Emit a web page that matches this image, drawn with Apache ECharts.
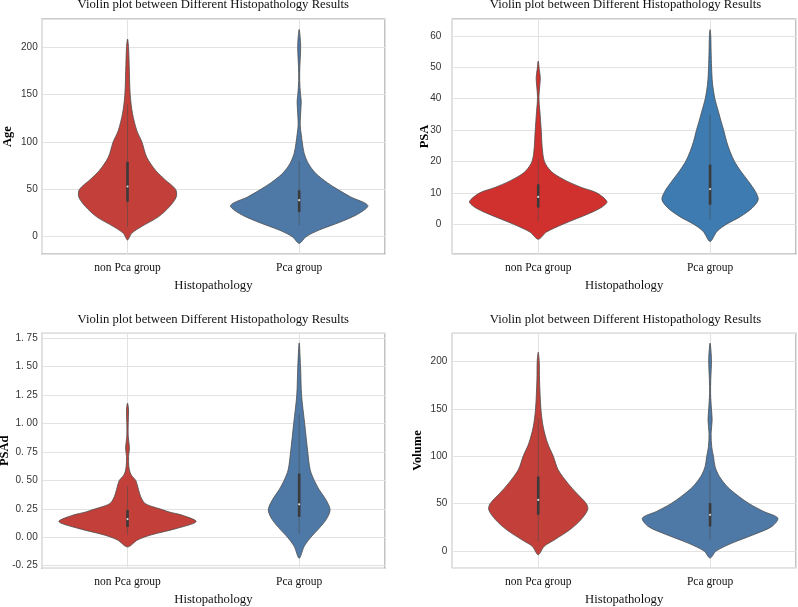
<!DOCTYPE html>
<html>
<head>
<meta charset="utf-8">
<script src="https://cdn.jsdelivr.net/npm/echarts@6/dist/echarts.min.js"></script>
<style>
html,body{margin:0;padding:0;background:#fff;}
#chart{width:798px;height:607px;}
</style>
</head>
<body>
<div id="chart"></div>
<script>
// ---------- data ----------
const categories = ['non Pca group', 'Pca group'];
const chartTitle = 'Violin plot between Different Histopathology Results';
const xName = 'Histopathology';
const yNames = ['Age', 'PSA', 'PSAd', 'Volume'];

// violin profiles: [value, relative density width]
const ageNonPca = [[-3.5,0],[3.5,0.06],[10.5,0.20],[21,0.45],[31.6,0.61],[42,0.71],[50,0.70],[60,0.55],[70,0.41],[84,0.28],[100,0.21],[112,0.136],[130,0.073],[150,0.039],[182,0.024],[200,0.015],[208.8,0]];
const agePca = [[-7,0],[0,0.1],[7,0.29],[15.8,0.61],[24.5,0.87],[33,1.0],[42,0.75],[50,0.56],[57,0.41],[67,0.24],[77,0.136],[88,0.073],[100,0.044],[108,0.03],[118,0.015],[135,0.025],[143,0.03],[150,0.02],[165,0.007],[180,0.01],[195,0.02],[205,0.02],[219,0]];
const psaNonPca = [[-4.8,0],[-2.5,0.12],[0,0.36],[3.5,0.75],[5.5,0.93],[7.2,1.0],[10,0.85],[11.7,0.63],[13.8,0.41],[15.5,0.27],[17,0.18],[20,0.09],[24.4,0.058],[28.7,0.047],[33,0.034],[36,0.024],[40.3,0.01],[44,0.022],[46.7,0.03],[49.4,0.015],[52,0]];
const psaPca = [[-5.5,0],[-2.3,0.1],[0,0.24],[2.4,0.44],[5.1,0.61],[7.8,0.70],[10.4,0.66],[13.6,0.56],[16.8,0.45],[19.8,0.36],[23.2,0.29],[26.4,0.24],[29.8,0.2],[32.8,0.16],[36,0.12],[40,0.07],[45,0.035],[50,0.022],[55,0.015],[60,0.01],[62,0]];
const psadNonPca = [[-0.085,0],[-0.024,0.146],[0.02,0.34],[0.08,0.73],[0.138,1.0],[0.197,0.78],[0.22,0.62],[0.25,0.47],[0.27,0.36],[0.30,0.25],[0.36,0.19],[0.42,0.16],[0.5,0.12],[0.535,0.07],[0.565,0.04],[0.62,0.02],[0.71,0.015],[0.785,0.028],[0.89,0.01],[1.0,0.01],[1.12,0.015],[1.18,0]];
const psadPca = [[-0.185,0],[-0.08,0.073],[0,0.17],[0.065,0.27],[0.153,0.39],[0.24,0.45],[0.33,0.39],[0.42,0.29],[0.5,0.22],[0.594,0.16],[0.75,0.125],[1.0,0.08],[1.25,0.035],[1.5,0.02],[1.71,0]];
const volNonPca = [[-3.9,0],[5,0.087],[12,0.24],[22.5,0.46],[33,0.62],[43.6,0.72],[50,0.70],[61,0.56],[71.7,0.43],[85.8,0.29],[100,0.22],[114,0.136],[131,0.073],[150,0.039],[180.7,0.019],[200,0.015],[210,0]];
const volPca = [[-7.4,0],[0,0.087],[8.4,0.32],[17.2,0.63],[26,0.9],[34.8,0.985],[41.8,0.78],[50,0.57],[57.6,0.42],[68,0.25],[78.7,0.136],[89,0.073],[100,0.049],[110,0.024],[124,0.015],[138.5,0.03],[150,0.02],[166.6,0.007],[181,0.01],[202,0.02],[219.7,0]];

// box stats: [lower whisker, q1, median, q3, upper whisker]
const ageBox = [[10,37,53,79,140],[12,26,38.6,49,80]];
const psaBox = [[1,5.3,8.7,12.7,21],[1.4,6.2,11.2,19,35]];
const psadBox = [[0.02,0.09,0.16,0.24,0.45],[0.03,0.18,0.29,0.56,1.08]];
const volBox = [[10,38.3,54,78.7,140],[12,26,38.3,50.6,85]];

// axis ranges and tick steps
const yMin = [-18.3, -9.5, -0.273, -17.6];
const yMax = [230, 65.4, 1.794, 230];
const yStep = [50, 10, 0.25, 50];

// ---------- layout / style ----------
const grids = [
  {left: 41.7, top: 19, width: 343.3, height: 235},
  {left: 452.3, top: 19, width: 343.7, height: 235},
  {left: 41.7, top: 333.3, width: 343.3, height: 235},
  {left: 452.3, top: 333.3, width: 343.7, height: 234.4}
];
const titlePos = [[213.3, 4.5], [625.5, 4.5], [213.3, 319.5], [625.5, 319.5]];
const yNameGap = [27.5, 21.5, 30.5, 28];
const yLabelMargin = [4, 11, 4, 5];
const colors = [
  ['#c3403a', '#4e79a7'],
  ['#d0312f', '#3d7bb0'],
  ['#c3403a', '#4e79a7'],
  ['#c3403a', '#4e79a7']
];
const profiles = [[ageNonPca, agePca], [psaNonPca, psaPca], [psadNonPca, psadPca], [volNonPca, volPca]];
const boxes = [ageBox, psaBox, psadBox, volBox];
const HALF = 0.4;

function isMult(v, s) { const r = v / s; return Math.abs(r - Math.round(r)) < 1e-6; }

function makeRender(p) {
  return function (params, api) {
    const i = params.dataIndex;
    const prof = profiles[p][i];
    const bx = boxes[p][i];
    const pts = [];
    for (let k = 0; k < prof.length; k++) pts.push(api.coord([i - prof[k][1] * HALF, prof[k][0]]));
    for (let k = prof.length - 2; k >= 1; k--) pts.push(api.coord([i + prof[k][1] * HALF, prof[k][0]]));
    const lo = api.coord([i, bx[0]]), q1 = api.coord([i, bx[1]]), md = api.coord([i, bx[2]]), q3 = api.coord([i, bx[3]]), hi = api.coord([i, bx[4]]);
    return {
      type: 'group',
      children: [
        {type: 'polygon', shape: {points: pts, smooth: 0.3}, style: {fill: colors[p][i], stroke: '#4d4d4d', lineWidth: 0.8}},
        {type: 'line', shape: {x1: lo[0], y1: lo[1], x2: hi[0], y2: hi[1]}, style: {stroke: '#4a4a4a', lineWidth: 0.7, opacity: 0.8}},
        {type: 'rect', shape: {x: q3[0] - 1.3, y: q3[1], width: 2.6, height: q1[1] - q3[1]}, style: {fill: '#3a3a3a'}},
        {type: 'circle', shape: {cx: md[0], cy: md[1], r: 1.1}, style: {fill: '#d8d8d8'}}
      ]
    };
  };
}

const option = {
  animation: false,
  backgroundColor: '#fff',
  grid: grids.map(g => Object.assign({show: true, borderColor: '#9a9a9a', borderWidth: 1.2, backgroundColor: '#fff', containLabel: false, outerBoundsMode: 'none'}, g)),
  xAxis: grids.map((g, p) => ({
    gridIndex: p, type: 'value', min: -0.5, max: 1.5, minInterval: 1, maxInterval: 1,
    axisLine: {show: false}, axisTick: {show: false},
    splitLine: {show: true, lineStyle: {color: '#e2e2e2', width: 1}},
    axisLabel: {
      showMinLabel: false, showMaxLabel: false, margin: 8,
      fontFamily: 'Liberation Serif', fontSize: 11.5, color: '#111',
      formatter: v => (Math.abs(v) < 1e-9 ? categories[0] : (Math.abs(v - 1) < 1e-9 ? categories[1] : ''))
    },
    name: xName, nameLocation: 'middle', nameGap: 25, nameMoveOverlap: false,
    nameTextStyle: {fontFamily: 'Liberation Serif', fontSize: 12.7, color: '#111'}
  })),
  yAxis: grids.map((g, p) => ({
    gridIndex: p, type: 'value', min: yMin[p], max: yMax[p], minInterval: yStep[p], maxInterval: yStep[p],
    axisLine: {show: false}, axisTick: {show: false},
    splitLine: {show: true, lineStyle: {color: '#e2e2e2', width: 1}},
    axisLabel: {
      showMinLabel: false, showMaxLabel: false, margin: yLabelMargin[p],
      fontFamily: 'Liberation Sans', fontSize: 10, color: '#333',
      formatter: v => {
        if (!isMult(v, yStep[p])) return '';
        return p === 2 ? v.toFixed(2).replace('.', '. ') : String(Math.round(v));
      }
    },
    name: yNames[p], nameLocation: 'middle', nameGap: yNameGap[p], nameRotate: 90, nameMoveOverlap: false,
    nameTextStyle: {fontFamily: 'Liberation Serif', fontWeight: 'bold', fontSize: 12.5, color: '#000'}
  })),
  series: grids.map((g, p) => ({
    type: 'custom', xAxisIndex: p, yAxisIndex: p,
    renderItem: makeRender(p),
    data: categories.map((c, i) => [i, boxes[p][i][2]]),
    encode: {x: 0, y: 1},
    clip: false, silent: true
  })),
  graphic: titlePos.map(t => ({
    type: 'text', x: t[0], y: t[1],
    style: {text: chartTitle, fontFamily: 'Liberation Serif', fontSize: 12.7, fill: '#111', align: 'center', verticalAlign: 'middle'}
  }))
};

const chart = echarts.init(document.getElementById('chart'), null, {renderer: 'canvas'});
chart.setOption(option);
</script>
</body>
</html>
